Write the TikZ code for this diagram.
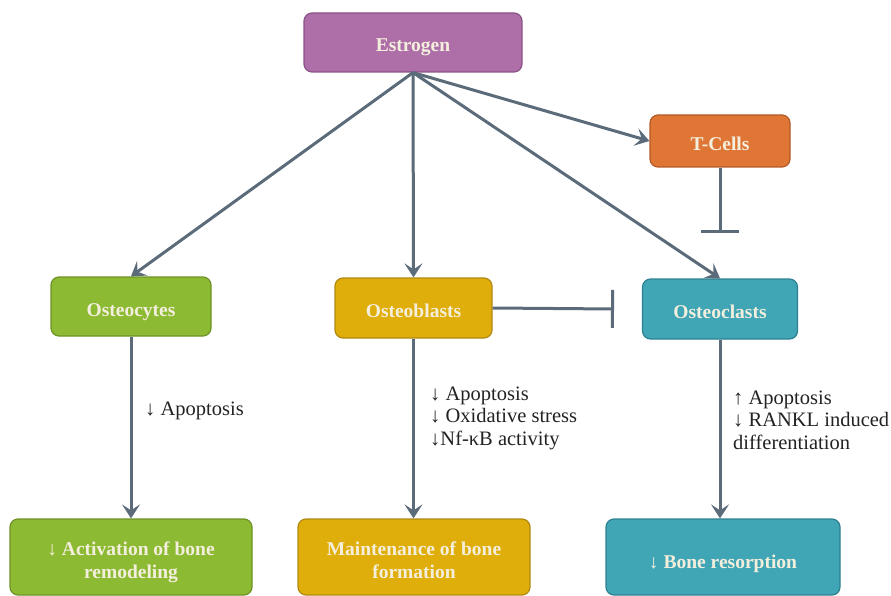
\documentclass[tikz,border=0pt]{standalone}
\usepackage{fontspec}
\setmainfont{Liberation Serif}
\usetikzlibrary{arrows.meta}
\definecolor{arr}{HTML}{5B6B7A}
\definecolor{txt}{HTML}{F4EFDD}
\definecolor{lbltxt}{HTML}{222222}
\definecolor{purp}{HTML}{AE6FA8}\definecolor{purpd}{HTML}{8A5387}
\definecolor{oran}{HTML}{E07636}\definecolor{orand}{HTML}{B35A28}
\definecolor{gren}{HTML}{8DBA33}\definecolor{grend}{HTML}{6D9226}
\definecolor{gold}{HTML}{E0AE0A}\definecolor{goldd}{HTML}{B08812}
\definecolor{teal}{HTML}{40A5B4}\definecolor{teald}{HTML}{2E8190}
\tikzset{
  box/.style={draw, line width=1.2pt, rounded corners=8pt, text=txt, font=\fontsize{19.5}{23}\selectfont\bfseries, align=center, inner sep=0pt},
  oneline/.style={text height=22pt, text depth=3pt},
  oneline low/.style={text height=25pt, text depth=3pt},
  twoline/.style={text height=44pt, text depth=2pt},
  conn/.style={draw=arr, line width=3pt, -{Stealth[length=14pt,width=18pt,inset=6pt]}},
  inhib/.style={draw=arr, line width=3pt, -{Bar[width=38pt,line width=3pt]}},
  lbl/.style={font=\fontsize{20.5}{22.5}\selectfont, text=lbltxt, align=left, anchor=west, inner sep=0pt}
}
\begin{document}
\begin{tikzpicture}[x=1pt,y=-1pt]
\useasboundingbox (0,0) rectangle (891,596);
\node[box, oneline, fill=purp, draw=purpd, minimum width=218pt, minimum height=59pt] (est) at (413,42.5) {Estrogen};
\node[box, oneline, fill=oran, draw=orand, minimum width=140pt, minimum height=52pt] (tc) at (720,141) {T-Cells};
\node[box, oneline, fill=gren, draw=grend, minimum width=160pt, minimum height=59pt] (ocy) at (131,306.5) {Osteocytes};
\node[box, oneline, fill=gold, draw=goldd, minimum width=157pt, minimum height=60pt] (obl) at (413.5,308) {Osteoblasts};
\node[box, oneline, fill=teal, draw=teald, minimum width=155pt, minimum height=60pt] (ocl) at (720,309) {Osteoclasts};
\node[box, twoline, fill=gren, draw=grend, minimum width=242pt, minimum height=76pt] (bl) at (131,557) {\char"2193\ Activation of bone\\remodeling};
\node[box, twoline, fill=gold, draw=goldd, minimum width=232pt, minimum height=76pt] (bm) at (414,557) {Maintenance of bone\\formation};
\node[box, oneline low, fill=teal, draw=teald, minimum width=234pt, minimum height=76pt] (br) at (723,557) {\char"2193\ Bone resorption};
\coordinate (tcend) at (720,233);
\coordinate (oblend) at (614,309);
\draw[conn] (est.south) -- (ocy.north);
\draw[conn] (est.south) -- (obl.north);
\draw[conn] (est.south) -- (ocl.north);
\draw[conn] (est.south) -- (tc.west);
\draw[inhib] (tc.south) -- (tcend);
\draw[inhib] (obl.east) -- (oblend);
\draw[conn] (ocy.south) -- (bl.north);
\draw[conn] (obl.south) -- (obl.south |- bm.north);
\draw[conn] (ocl.south) -- (ocl.south |- br.north);
\node[lbl] (l1) at (145,411) {\char"2193\ Apoptosis};
\node[lbl] (l2) at (430,418) {\char"2193\ Apoptosis\\\char"2193\ Oxidative stress\\\char"2193Nf-\char"03BA B activity};
\node[lbl] (l3) at (733,420) {\char"2191\ Apoptosis\\\char"2193\ RANKL induced\\differentiation};
\end{tikzpicture}
\end{document}
